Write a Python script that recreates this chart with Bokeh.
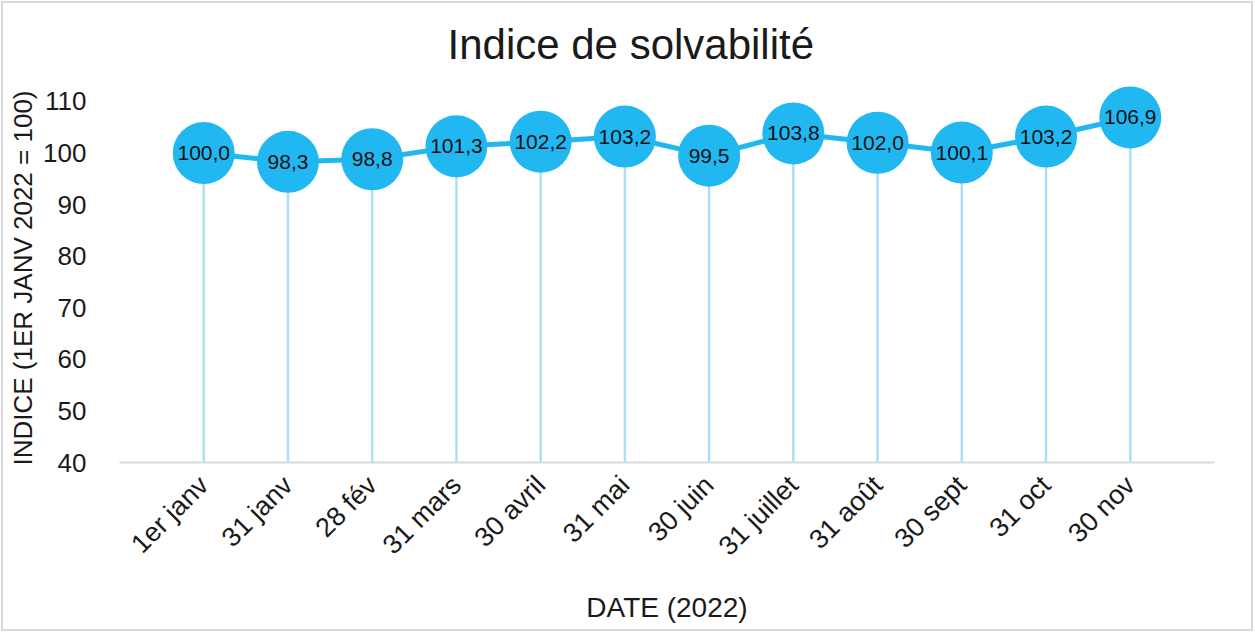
import math
from bokeh.plotting import figure
from bokeh.models import ColumnDataSource, FixedTicker, Title, Range1d
from bokeh.core.properties import value
from bokeh.embed import file_html
from bokeh.resources import INLINE

# ---- data ----
categories = ["1er janv", "31 janv", "28 fév", "31 mars", "30 avril", "31 mai",
              "30 juin", "31 juillet", "31 août", "30 sept", "31 oct", "30 nov"]
index_values = [100.0, 98.3, 98.8, 101.3, 102.2, 103.2, 99.5, 103.8, 102.0, 100.1, 103.2, 106.9]
y_ticks = [40, 50, 60, 70, 80, 90, 100, 110]
y_title = "INDICE (1ER JANV 2022 = 100)"
x_title = "DATE (2022)"
chart_title = "Indice de solvabilité"

FONT = "Liberation Sans"
BLUE = "#21b8f2"
LIGHT = "#ade0f6"
TXT = "#1a1a1a"

xs = list(range(1, len(categories) + 1))
labels = [f"{v:.1f}".replace(".", ",") for v in index_values]
src = ColumnDataSource(dict(x=xs, y=index_values, base=[y_ticks[0]] * len(xs), label=labels))

p = figure(width=1254, height=632, output_backend="svg", toolbar_location=None,
           x_range=Range1d(0, len(categories) + 1), y_range=Range1d(40, 114.07),
           min_border_left=119, min_border_right=40, min_border_top=80, min_border_bottom=170)
p.styles = {"outline": "2px solid #d9d9d9", "outline-offset": "-3px", "background-color": "white"}
p.border_fill_color = None

title = Title(text=chart_title, align="left", offset=328,
              text_font=FONT, text_font_size="42px", text_font_style="normal",
              text_color=TXT, standoff=25)
p.add_layout(title, "above")

p.outline_line_color = None
p.xgrid.grid_line_color = None
p.ygrid.grid_line_color = None
p.background_fill_color = "white"

p.segment(x0="x", y0="base", x1="x", y1="y", source=src, line_color=LIGHT, line_width=2.5)
p.line(x="x", y="y", source=src, line_color=BLUE, line_width=5)
p.scatter(x="x", y="y", source=src, size=62, fill_color=BLUE, line_color=BLUE, line_width=0)
p.text(x="x", y="y", text="label", source=src, text_align="center", text_baseline="middle",
       text_font=value(FONT), text_font_size="21px", text_color="#111111")

# x axis
xa = p.xaxis[0]
xa.ticker = FixedTicker(ticks=xs)
xa.major_label_overrides = {x: c for x, c in zip(xs, categories)}
xa.major_label_orientation = math.pi / 4
xa.major_tick_line_color = None
xa.minor_tick_line_color = None
xa.axis_line_color = "#d9d9d9"
xa.axis_line_width = 2
xa.major_label_text_font = FONT
xa.major_label_text_font_size = "27px"
xa.major_label_text_color = TXT
xa.major_label_standoff = 12
xa.axis_label = x_title
xa.axis_label_text_font = FONT
xa.axis_label_text_font_size = "28px"
xa.axis_label_text_font_style = "normal"
xa.axis_label_text_color = TXT
xa.axis_label_standoff = 17

# y axis
ya = p.yaxis[0]
ya.ticker = FixedTicker(ticks=y_ticks)
ya.axis_line_color = None
ya.major_tick_line_color = None
ya.minor_tick_line_color = None
ya.major_label_text_font = FONT
ya.major_label_text_font_size = "26px"
ya.major_label_text_color = TXT
ya.major_label_standoff = 27

# y axis title, starting at the bottom of the plot area
ytitle = Title(text=y_title, align="left", offset=-3, text_font=FONT,
               text_font_size="26px", text_font_style="normal", text_color=TXT, standoff=5)
p.add_layout(ytitle, "left")

open("out.html", "w").write(file_html(p, INLINE))
